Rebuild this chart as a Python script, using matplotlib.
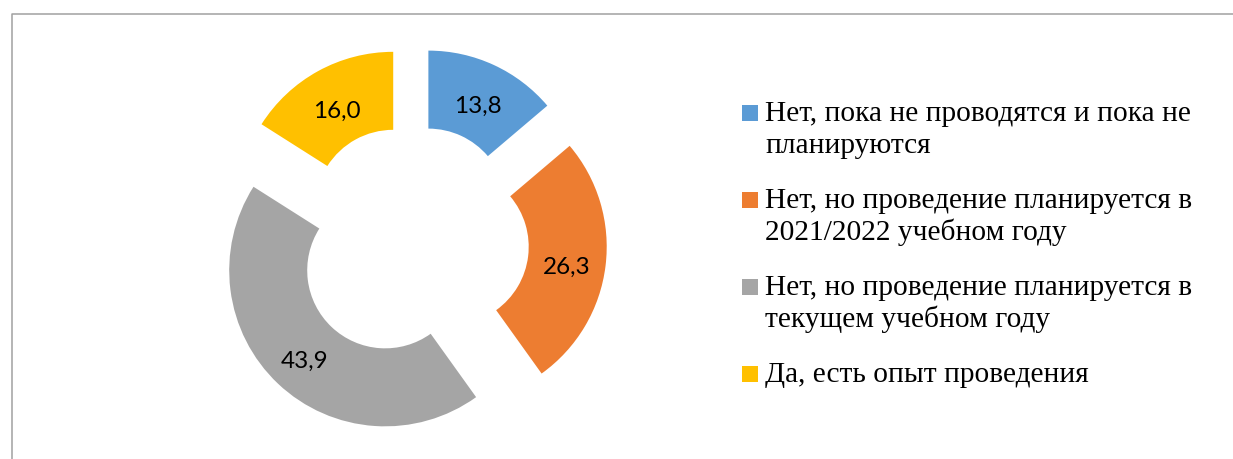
import matplotlib.pyplot as plt
from matplotlib.patches import Rectangle


# DADOS DO GRÁFICO

categorias = [
    "Нет, пока не проводятся и пока не\nпланируются",
    "Нет, но проведение планируется в\n2021/2022 учебном году",
    "Нет, но проведение планируется в\nтекущем учебном году",
    "Да, есть опыт проведения",
]

valores = [13.8, 26.3, 43.9, 16.0]

cores = ["#5B9BD5", "#ED7D31", "#A5A5A5", "#FFC000"]


# FIGURA (coordenadas em pixels da imagem)

W, H = 1233, 459

fig = plt.figure(figsize=(W / 100, H / 100), dpi=100)

ax = fig.add_axes([0, 0, 1, 1])

raio = 156

wedges, textos, autotextos = ax.pie(
    valores,
    colors=cores,
    startangle=90,
    counterclock=False,
    radius=raio,
    center=(412, H - 242),
    explode=[39] * len(valores),
    wedgeprops=dict(width=78, linewidth=0),
    autopct=lambda p: f"{p:.1f}".replace(".", ","),
    pctdistance=0.75,
    textprops=dict(
        family=["Lato", "DejaVu Sans"],
        fontsize=17.5,
        color="black"
    )
)

for t in autotextos:
    x, y = t.get_position()
    t.set_position((x, y - 6))

ax.set_xlim(0, W)
ax.set_ylim(0, H)
ax.set_aspect("equal")
ax.axis("off")


# MOLDURA

ax.plot(
    [12, 12, W],
    [0, H - 14, H - 14],
    color="#A0A0A0",
    linewidth=1.1
)


# LEGENDA

y_item = 121
for cat, cor in zip(categorias, cores):
    ax.add_patch(
        Rectangle(
            (742, H - y_item),
            16, 16,
            facecolor=cor,
            edgecolor="none"
        )
    )
    for i, linha in enumerate(cat.split("\n")):
        ax.text(
            765,
            H - (y_item + i * 32),
            linha,
            family="Liberation Serif",
            fontsize=21.2,
            va="baseline",
            ha="left"
        )
    y_item += 87


fig.savefig("out.png", dpi=100)
